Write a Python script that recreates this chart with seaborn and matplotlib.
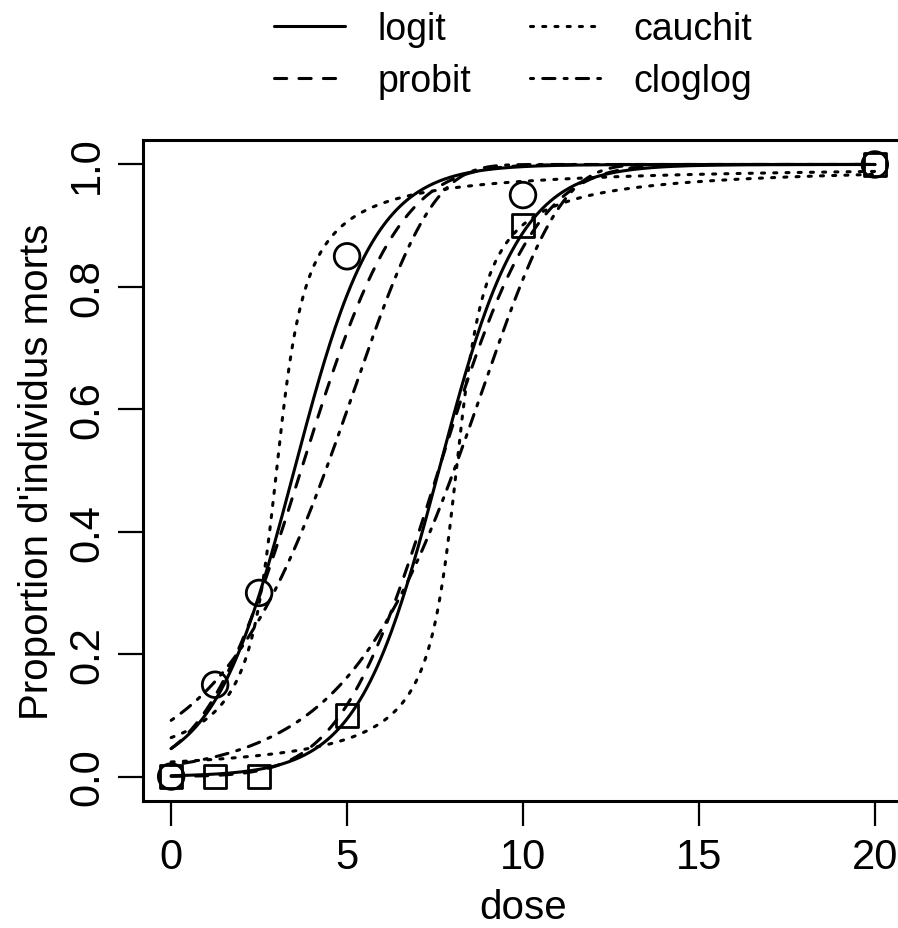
import math
import numpy as np
import pandas as pd
import matplotlib
matplotlib.use("Agg")
from matplotlib import pyplot as plt
from matplotlib.lines import Line2D
import seaborn as sns

# observed data (proportion of dead individuals, 20 per dose)
dose = [0, 1.25, 2.5, 5, 10, 20]
prop_g1 = [0.0, 0.15, 0.30, 0.85, 0.95, 1.0]   # circles
prop_g2 = [0.0, 0.0, 0.0, 0.10, 0.90, 1.0]     # squares
n_per_dose = 20
links = ["logit", "probit", "cauchit", "cloglog"]

erf = np.vectorize(math.erf)


def cdf(link, eta):
    if link == "logit":
        return 1 / (1 + np.exp(-eta))
    if link == "probit":
        return 0.5 * (1 + erf(eta / math.sqrt(2)))
    if link == "cauchit":
        return 0.5 + np.arctan(eta) / math.pi
    return 1 - np.exp(-np.exp(eta))


def pdf(link, eta):
    if link == "logit":
        e = np.exp(-eta)
        return e / (1 + e) ** 2
    if link == "probit":
        return np.exp(-eta ** 2 / 2) / math.sqrt(2 * math.pi)
    if link == "cauchit":
        return 1 / (math.pi * (1 + eta ** 2))
    return np.exp(eta - np.exp(eta))


def quantile(link, mu):
    lo = np.full_like(mu, -30.0)
    hi = np.full_like(mu, 30.0)
    for _ in range(80):
        mid = (lo + hi) / 2
        up = cdf(link, mid) < mu
        lo = np.where(up, mid, lo)
        hi = np.where(up, hi, mid)
    return (lo + hi) / 2


def glm_fit(X, p, link):
    # binomial glm by IRLS, like R's glm(cbind(morts, vivants) ~ groupe + dose)
    mu = (n_per_dose * p + 0.5) / (n_per_dose + 1)
    eta = quantile(link, mu)
    for _ in range(200):
        mu = np.clip(cdf(link, eta), 1e-12, 1 - 1e-12)
        d = np.maximum(pdf(link, eta), 1e-300)
        w = n_per_dose * d ** 2 / (mu * (1 - mu))
        z = eta + (p - mu) / d
        beta = np.linalg.solve(X.T @ (w[:, None] * X), X.T @ (w * z))
        eta = X @ beta
    return beta


x_all = np.array(dose * 2, float)
g_all = np.array([0] * len(dose) + [1] * len(dose), float)
p_all = np.array(prop_g1 + prop_g2, float)
X_all = np.column_stack([np.ones_like(x_all), g_all, x_all])

grid = np.linspace(0, 20, 400)
rows = []
for link in links:
    b = glm_fit(X_all, p_all, link)
    for gi, g in enumerate(("g1", "g2")):
        fitted = cdf(link, b[0] + b[1] * gi + b[2] * grid)
        for xv, yv in zip(grid, fitted):
            rows.append((g, link, xv, yv))
curves = pd.DataFrame(rows, columns=["groupe", "link", "dose", "p"])

sns.set_style("white")
plt.rcParams["font.family"] = ["Liberation Sans", "DejaVu Sans"]
plt.rcParams["text.color"] = "black"
plt.rcParams["axes.labelcolor"] = "black"
plt.rcParams["xtick.color"] = "black"
plt.rcParams["ytick.color"] = "black"

fig = plt.figure(figsize=(8.98, 9.29), dpi=100)
ax = fig.add_axes([143 / 898, 127 / 929, 760 / 898, 661 / 929])

dash_map = {"logit": "", "probit": (4, 4), "cauchit": (1, 3), "cloglog": (1, 3, 4, 3)}
sns.lineplot(data=curves, x="dose", y="p", style="link", units="groupe",
             estimator=None, dashes=dash_map, color="black", lw=2.2,
             dash_capstyle="round", legend=False, ax=ax, sort=False)

sns.scatterplot(x=dose, y=prop_g1, marker="o", s=340, facecolors="none",
                edgecolors="black", linewidth=2.0, ax=ax, zorder=3)
sns.scatterplot(x=dose, y=prop_g2, marker="s", s=264, facecolors="none",
                edgecolors="black", linewidth=2.0, ax=ax, zorder=3)

ax.set_xlim(-0.8, 20.8)
ax.set_ylim(-0.04, 1.04)
ax.set_xticks([0, 5, 10, 15, 20])
ax.set_yticks([0, 0.2, 0.4, 0.6, 0.8, 1.0])
ax.set_yticklabels(["0.0", "0.2", "0.4", "0.6", "0.8", "1.0"], rotation=90, va="center")
ax.tick_params(length=18, width=1.6, labelsize=30, pad=8, direction="out",
               bottom=True, left=True)
ax.set_xlabel("dose", fontsize=29, labelpad=8)
ax.set_ylabel("Proportion d'individus morts", fontsize=29, labelpad=8)
for sp in ax.spines.values():
    sp.set_color("black")
    sp.set_linewidth(2.2)

handles = []
for k in links:
    h = Line2D([], [], color="black", lw=2.2, dash_capstyle="round")
    if dash_map[k]:
        h.set_dashes(dash_map[k])
    handles.append(h)
fig.legend(handles, links, ncol=2, loc="upper left", bbox_to_anchor=(0.268, 1.023),
           frameon=False, fontsize=27, handlelength=1.87, columnspacing=1.56,
           handletextpad=0.88, labelspacing=0.41)

fig.savefig("out.png", dpi=100)
